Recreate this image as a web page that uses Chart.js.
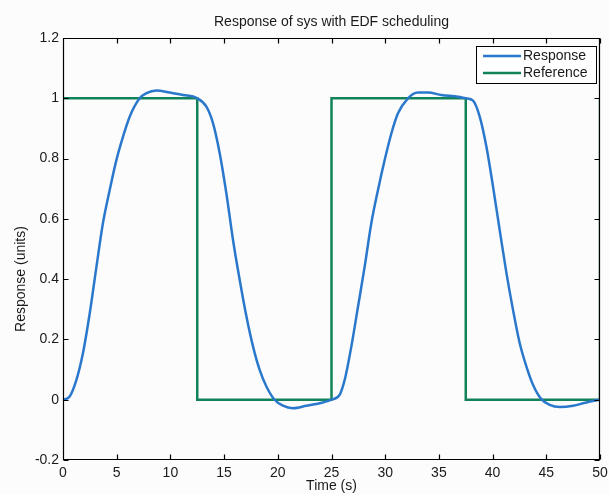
<!DOCTYPE html>
<html>
<head>
<meta charset="utf-8">
<script src="https://cdn.jsdelivr.net/npm/chart.js@4.4.1/dist/chart.umd.min.js"></script>
<style>
  html, body { margin: 0; padding: 0; background: #fcfcfd; }
  #wrap { width: 609px; height: 494px; }
</style>
</head>
<body>
<div id="wrap"><canvas id="edfChart" width="609" height="494"></canvas></div>
<script>
// Response of sys with EDF scheduling

const CHART_TITLE = 'Response of sys with EDF scheduling';
const X_LABEL = 'Time (s)';
const Y_LABEL = 'Response (units)';
const SERIES_NAMES = ['Response', 'Reference'];

const respTime = [0, 0.6, 1.25, 1.86, 2.49, 3.11, 3.72, 4.35, 4.97, 5.59, 6.21, 7.14, 7.77, 8.7, 9.93, 11.17, 12.5,
    13.35, 13.97, 14.59, 15.21, 15.83, 16.45, 17.08, 17.69, 18.31, 18.94, 19.7, 20.48, 21.4, 22.66, 24.2, 25,
    25.77, 26.23, 26.85, 27.47, 28.09, 28.71, 29.33, 29.95, 30.58, 31.19, 32.12, 33.05, 33.98, 35.23, 36.78, 37.5,
    38.18, 38.8, 39.42, 40.04, 40.66, 41.29, 41.9, 42.52, 43.15, 43.76, 44.54, 45.32, 46.25, 47.49, 48.73, 50];
const respValue = [0, 0.01, 0.066, 0.155, 0.287, 0.44, 0.586, 0.696, 0.795, 0.873, 0.939, 1.0, 1.017, 1.026, 1.019, 1.011, 1.0,
    0.972, 0.917, 0.818, 0.685, 0.53, 0.398, 0.276, 0.177, 0.099, 0.044, 0.0, -0.02, -0.028, -0.02, -0.009, 0,
    0.017, 0.066, 0.177, 0.309, 0.442, 0.586, 0.696, 0.795, 0.884, 0.95, 1.0, 1.019, 1.019, 1.011, 1.005, 1.0,
    0.992, 0.939, 0.84, 0.707, 0.563, 0.42, 0.298, 0.188, 0.11, 0.05, 0.002, -0.017, -0.024, -0.02, -0.009, 0];

// square wave reference, value held until the next switch time
const refTime = [0, 12.5, 25, 37.5, 50];
const refValue = [1, 0, 1, 0, 1];

const xTicks = [0, 5, 10, 15, 20, 25, 30, 35, 40, 45, 50];
const yTicks = [-0.2, 0, 0.2, 0.4, 0.6, 0.8, 1, 1.2];

const COLORS = { response: '#2a78cc', reference: '#128358', text: '#1a1a1a', axis: '#000000' };
const FONT = '"Liberation Sans", Arial, sans-serif';
const FONT_SIZE = 14;

const toPoints = (xs, ys) => xs.map((x, i) => ({ x: x, y: ys[i] }));

// matlab-ish frame: box on all four sides with inward ticks
function drawFrame(chart) {
    const c = chart.ctx;
    const a = chart.chartArea;
    const xs = chart.scales.x;
    const ys = chart.scales.y;
    const tick = 5;
    const L = Math.round(a.left) + 0.5;
    const R = Math.round(a.right) - 0.5;
    const T = Math.round(a.top) + 0.5;
    const B = Math.round(a.bottom) - 0.5;

    c.save();
    c.strokeStyle = COLORS.axis;
    c.lineWidth = 1.2;
    c.beginPath();
    c.moveTo(L, T); c.lineTo(R, T); c.lineTo(R, B); c.lineTo(L, B); c.closePath();
    xTicks.forEach(v => {
        const px = Math.round(xs.getPixelForValue(v)) + 0.5;
        c.moveTo(px, B); c.lineTo(px, B - tick);
        c.moveTo(px, T); c.lineTo(px, T + tick);
    });
    yTicks.forEach(v => {
        const py = Math.round(ys.getPixelForValue(v)) + 0.5;
        c.moveTo(L, py); c.lineTo(L + tick, py);
        c.moveTo(R, py); c.lineTo(R - tick, py);
    });
    c.stroke();
    c.restore();
}

// titles and the legend box
function drawLabels(chart) {
    const c = chart.ctx;
    const a = chart.chartArea;

    c.save();
    c.fillStyle = COLORS.text;
    c.font = `${FONT_SIZE}px ${FONT}`;
    c.textAlign = 'center';
    c.textBaseline = 'middle';
    const cx = (a.left + a.right) / 2;
    c.fillText(CHART_TITLE, cx, 22);
    c.fillText(X_LABEL, cx, 486);

    c.save();
    c.translate(21, 279);
    c.rotate(-Math.PI / 2);
    c.fillText(Y_LABEL, 0, 0);
    c.restore();

    const box = { left: 476, top: 46, right: 597, bottom: 84 };
    c.fillStyle = '#ffffff';
    c.fillRect(box.left, box.top, box.right - box.left, box.bottom - box.top);
    c.strokeStyle = COLORS.axis;
    c.lineWidth = 1;
    c.strokeRect(box.left + 0.5, box.top + 0.5, box.right - box.left - 1, box.bottom - box.top - 1);

    const rows = [56, 73];
    chart.data.datasets.forEach((ds, i) => {
        c.strokeStyle = ds.borderColor;
        c.lineWidth = 2.5;
        c.beginPath();
        c.moveTo(483, rows[i]);
        c.lineTo(521, rows[i]);
        c.stroke();
        c.fillStyle = COLORS.text;
        c.textAlign = 'left';
        c.fillText(ds.label, 523, rows[i] + 0.5);
    });
    c.restore();
}

const matlabFrame = {
    id: 'matlabFrame',
    afterDatasetsDraw(chart) {
        drawFrame(chart);
    },
    afterDraw(chart) {
        drawLabels(chart);
    }
};

const canvas = document.getElementById('edfChart');

new Chart(canvas, {
    type: 'line',
    data: {
        datasets: [{
            label: SERIES_NAMES[0],
            data: toPoints(respTime, respValue),
            borderColor: COLORS.response,
            borderWidth: 2.5,
            pointRadius: 0,
            cubicInterpolationMode: 'monotone',
            fill: false
        }, {
            label: SERIES_NAMES[1],
            data: toPoints(refTime, refValue),
            borderColor: COLORS.reference,
            borderWidth: 2.5,
            pointRadius: 0,
            stepped: 'before',
            fill: false
        }]
    },
    options: {
        responsive: false,
        animation: false,
        layout: { padding: { top: 38, right: 9, left: 0, bottom: 0 } },
        plugins: {
            legend: { display: false },
            title: { display: false },
            tooltip: { enabled: false }
        },
        scales: {
            x: {
                type: 'linear',
                min: 0,
                max: 50,
                grid: { display: false, drawTicks: false },
                border: { display: false },
                afterBuildTicks: scale => { scale.ticks = xTicks.map(v => ({ value: v })); },
                afterFit: scale => {
                    scale.height = 34;
                    // let the "50" label hang past the plot edge like the original
                    scale.paddingRight = 0;
                    scale.paddingLeft = 0;
                },
                ticks: {
                    padding: 5,
                    maxRotation: 0,
                    autoSkip: false,
                    color: COLORS.text,
                    font: { family: FONT, size: FONT_SIZE }
                }
            },
            y: {
                type: 'linear',
                min: -0.2,
                max: 1.2,
                grid: { display: false, drawTicks: false },
                border: { display: false },
                afterBuildTicks: scale => { scale.ticks = yTicks.map(v => ({ value: v })); },
                afterFit: scale => { scale.width = 63; },
                ticks: {
                    padding: 4,
                    autoSkip: false,
                    color: COLORS.text,
                    font: { family: FONT, size: FONT_SIZE },
                    callback: v => String(+v.toFixed(1))
                }
            }
        }
    },
    plugins: [matlabFrame]
});
</script>
</body>
</html>
